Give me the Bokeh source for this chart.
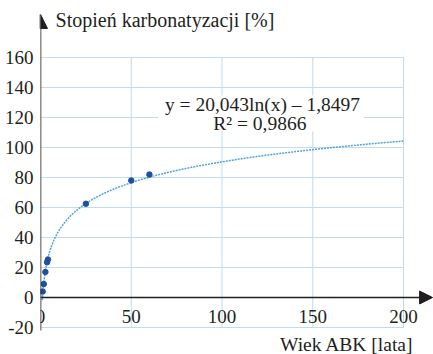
import numpy as np
from bokeh.plotting import figure
from bokeh.models import (Range1d, FixedTicker, Arrow, NormalHead, Label,
                          LinearAxis, BoxAnnotation)
from bokeh.embed import file_html
from bokeh.resources import INLINE

# ---- data ----
age = [1.2, 1.8, 2.7, 3.6, 4.1, 25, 50, 60]
carbonation = [4, 9, 17, 23.5, 25.3, 62.5, 78, 82]
x_ticks = [0, 50, 100, 150, 200]
y_ticks = [-20, 0, 20, 40, 60, 80, 100, 120, 140, 160]
y_tick_labels = ["-20", "0", "20", "40", "60", "80", "100", "120", "140", "160"]
fit_a = 20.043
fit_b = -1.8497
fit_x_start = 1
fit_x_end = 200
eq_text = "y = 20,043ln(x) – 1,8497"
r2_text = "R² = 0,9866"
y_title = "Stopień karbonatyzacji [%]"
x_title = "Wiek ABK [lata]"

FONT = "Liberation Serif"
INK = "#231f20"
GRID = "#c0daee"

p = figure(width=433, height=354, output_backend="svg", toolbar_location=None,
           x_range=Range1d(0, 216.5), y_range=Range1d(-38, 198),
           x_axis_location=None, y_axis_location=None,
           min_border_left=40, min_border_right=0, min_border_top=0,
           min_border_bottom=0, outline_line_color=None)
p.xgrid.visible = False
p.ygrid.visible = False
p.background_fill_color = "white"

# grid (bounded box 0..200 x -20..160)
gx0, gx1 = x_ticks[0], x_ticks[-1]
gy0, gy1 = y_ticks[0], y_ticks[-1]
p.segment(x0=[gx0] * len(y_ticks), x1=[gx1] * len(y_ticks), y0=y_ticks, y1=y_ticks,
          line_color=GRID, line_width=1)
vx = x_ticks[1:]
p.segment(x0=vx, x1=vx, y0=[gy0] * len(vx), y1=[gy1] * len(vx),
          line_color=GRID, line_width=1)

# trend line from the equation shown on the chart
fx = np.geomspace(fit_x_start, fit_x_end, 400)
fy = fit_a * np.log(fx) + fit_b
p.line(fx, fy, line_color="#4fa3da", line_width=1.5, line_dash="2 1")

# data points
p.scatter(age, carbonation, size=5.5, fill_color="#1f4f9e", line_color="#1f4f9e")

# equation box
p.add_layout(BoxAnnotation(left=65, right=178, bottom=110.7, top=134.7,
                           fill_color="white", fill_alpha=1, line_color=None))
p.add_layout(Label(x=122.3, y=128.7, text=eq_text, text_align="center",
                   text_baseline="middle", text_font=FONT, text_font_size="19.5px",
                   text_color=INK))
p.add_layout(Label(x=120.8, y=116.3, text=r2_text, text_align="center",
                   text_baseline="middle", text_font=FONT, text_font_size="19.5px",
                   text_color=INK))

# axes with arrows
p.add_layout(Arrow(x_start=0, y_start=-22, x_end=0, y_end=188.7,
                   line_color=INK, line_width=1.6,
                   end=NormalHead(size=14, fill_color=INK, line_color=INK)))
p.add_layout(Arrow(x_start=0, y_start=0, x_end=216, y_end=0,
                   line_color=INK, line_width=1.6,
                   end=NormalHead(size=13, fill_color=INK, line_color=INK)))

xaxis = LinearAxis(ticker=FixedTicker(ticks=x_ticks), fixed_location=0,
                   axis_line_color=None, major_tick_line_color=None,
                   minor_tick_line_color=None, major_label_standoff=6,
                   major_label_text_font=FONT, major_label_text_font_size="19px",
                   major_label_text_color=INK)
yaxis = LinearAxis(ticker=FixedTicker(ticks=y_ticks),
                   major_label_overrides=dict(zip(y_ticks, y_tick_labels)),
                   axis_line_color=None, major_tick_line_color=None,
                   major_tick_out=0, major_tick_in=0,
                   minor_tick_line_color=None, major_label_standoff=7,
                   major_label_text_font=FONT, major_label_text_font_size="19px",
                   major_label_text_color=INK)
p.add_layout(xaxis, "below")
p.add_layout(yaxis, "left")

p.add_layout(Label(x=8.3, y=185.3, text=y_title, text_align="left",
                   text_baseline="middle", text_font=FONT, text_font_size="20px",
                   text_color=INK))
p.add_layout(Label(x=205.5, y=-31.3, text=x_title, text_align="right",
                   text_baseline="middle", text_font=FONT, text_font_size="19.5px",
                   text_color=INK))

open("out.html", "w").write(file_html(p, INLINE))
